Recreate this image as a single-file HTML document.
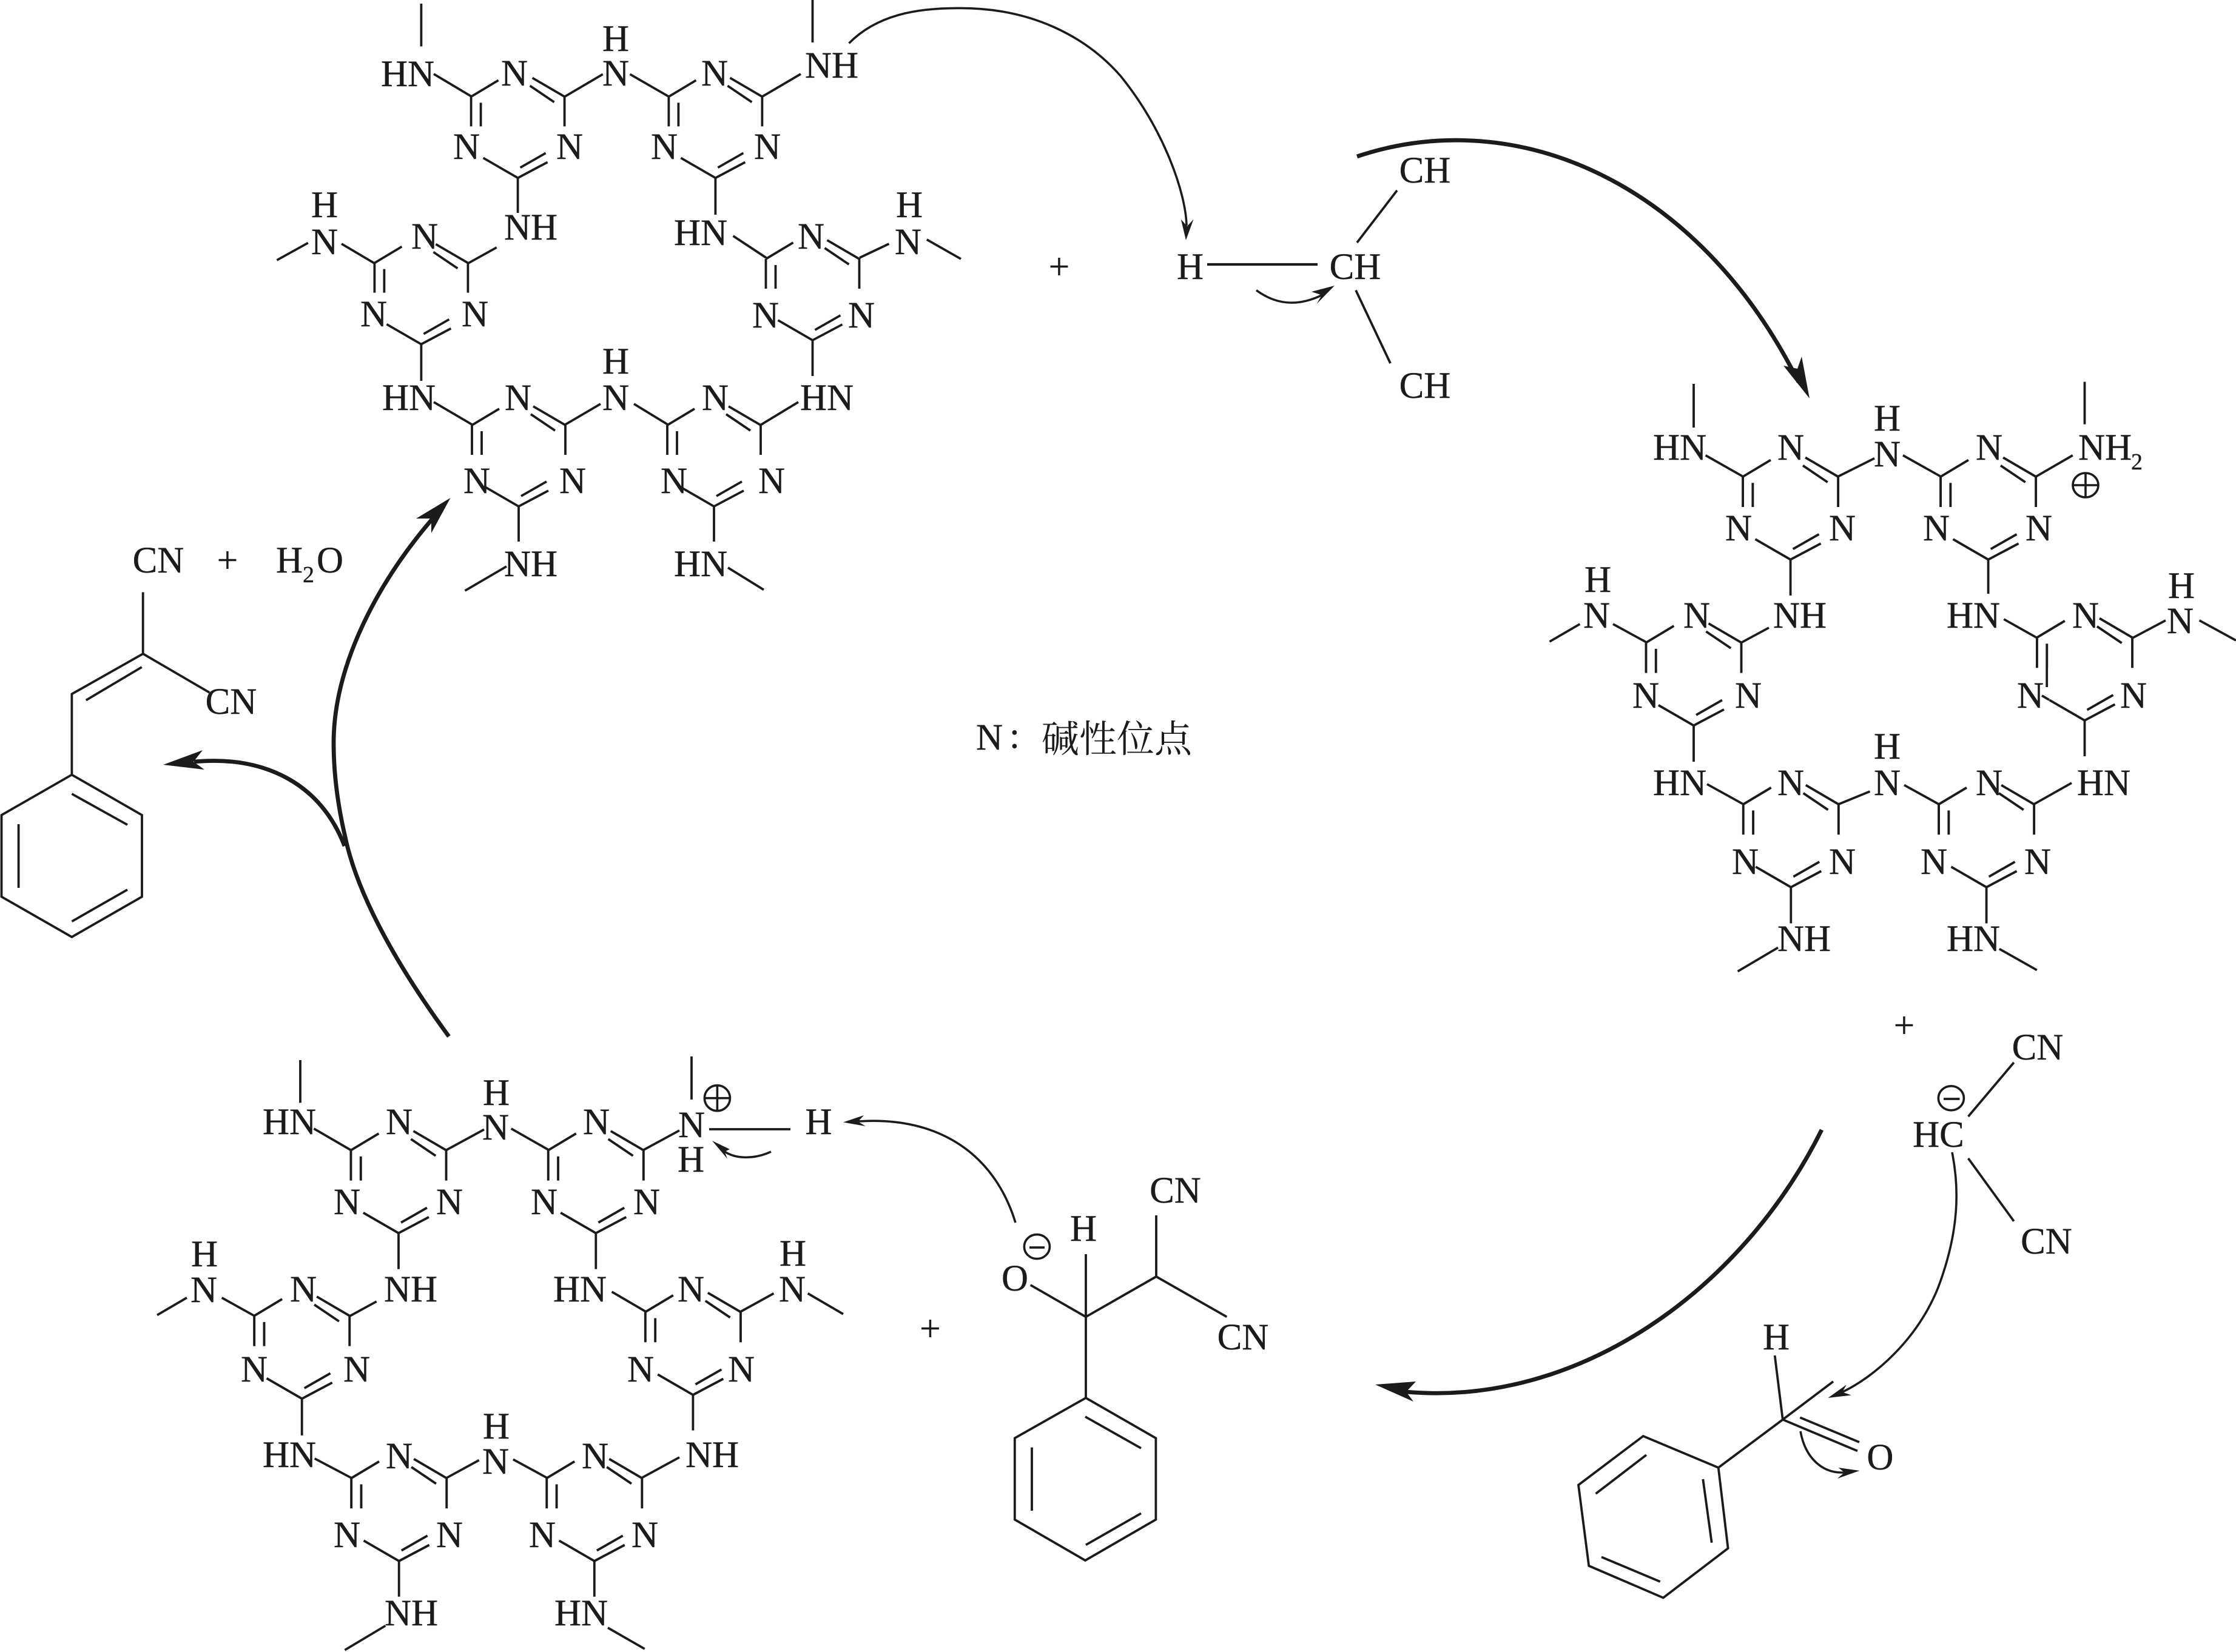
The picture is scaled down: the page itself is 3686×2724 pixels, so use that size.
<!DOCTYPE html>
<html lang="zh">
<head>
<meta charset="utf-8">
<title>Reaction mechanism</title>
<style>
html,body{margin:0;padding:0;background:#fff}
svg{display:block}
.b{fill:none;stroke:#1c1a1b;stroke-width:3.8;stroke-linecap:butt;stroke-linejoin:miter}
.a{fill:none;stroke:#1c1a1b;stroke-width:3.6}
.k{fill:none;stroke:#1c1a1b;stroke-width:6.8}
.h{fill:#1c1a1b;stroke:none}
.t{transform:translateY(-1px)}
.t text{font-family:"Liberation Serif","Noto Serif CJK SC",serif;font-size:61px;fill:#1c1a1b;stroke:#1c1a1b;stroke-width:.4;text-anchor:middle}
.t text.s{text-anchor:start}
.t text.u{font-size:38px;text-anchor:start}
.t text.c{font-size:62px;text-anchor:start;stroke-width:0;font-family:"Liberation Serif","Noto Serif CJK SC",serif}
</style>
</head>
<body>
<svg xmlns="http://www.w3.org/2000/svg" width="3686" height="2724" viewBox="0 0 3686 2724">
<defs>
<path id="r" class="b" d="M-77,-134L-32,-161M24,-165L77,-134L77,-85M20,-152L60,-125M0,0L49,-26M4,-17L46,-41M0,0L-57,-33M-77,-134L-77,-85M-61,-124L-61,-85"/>
</defs>
<rect width="3686" height="2724" fill="#fff"/>

<!-- Macrocycle A (top) -->
<use href="#r" transform="translate(853.6,293.4)"/>
<use href="#r" transform="translate(1179.4,293.4)"/>
<use href="#r" transform="translate(694.4,567.6)"/>
<use href="#r" transform="translate(1339.5,561)"/>
<use href="#r" transform="translate(855,835)"/>
<use href="#r" transform="translate(1177,835)"/>
<path class="b" d="M694.4,6V76.5M715,122L777,159M931.5,159L993.7,122.4M1038.5,122.4L1102,159M1339.5,0V70M1257,159L1320,122M853.6,293.4V351M1179.4,293.4V354M772,434L818.7,408M1263,425L1208.5,389M456.4,429L507.8,400.5M563,402L617,434M694.4,567.6V628M715,663L778,700M1465.5,402L1417,425M1527.8,395L1584,427M1339.5,561V620M1255,700L1316,663M932,700L990,666M1045,666L1100.7,700M855,835V893M835,934L766.5,974M1177,835V893M1200,936L1259,972.5"/>
<g class="t">
<text x="672" y="143">HN</text><text x="848" y="142">N</text><text x="1015" y="142">N</text><text x="1015" y="85">H</text><text x="1178" y="142">N</text><text x="1371" y="129">NH</text>
<text x="769" y="263">N</text><text x="939" y="263">N</text><text x="1095" y="263">N</text><text x="1265" y="263">N</text>
<text x="875" y="396">NH</text><text x="1155" y="405">HN</text>
<text x="535" y="420">N</text><text x="535" y="359">H</text><text x="700" y="411">N</text><text x="1337" y="411">N</text><text x="1497" y="420">N</text><text x="1499" y="359">H</text>
<text x="616" y="539">N</text><text x="783" y="539">N</text><text x="1262" y="541">N</text><text x="1420" y="541">N</text>
<text x="674" y="677">HN</text><text x="854" y="677">N</text><text x="1015" y="677">N</text><text x="1015" y="617">H</text><text x="1179" y="677">N</text><text x="1363" y="677">HN</text>
<text x="786" y="814">N</text><text x="944" y="814">N</text><text x="1111" y="814">N</text><text x="1272" y="814">N</text>
<text x="875" y="951">NH</text><text x="1155" y="951">HN</text>
</g>

<!-- Product: benzylidene malononitrile + water -->
<path class="b" d="M235.7,976.5V1078L118.4,1144.4V1277.5L234,1344V1478.6L118.4,1545L2.5,1478.6V1344L118.4,1277.5M235.7,1078L345.4,1142M233.7,1100L141.8,1154.6M118.4,1309L210,1360M30.6,1359V1464M118.4,1519.4L210,1467"/>
<g class="t">
<text x="261" y="945">CN</text><text x="375" y="945">+</text>
<text class="s" x="455" y="945">H</text><text class="u" x="499" y="961">2</text><text class="s" x="522" y="945">O</text>
<text x="381" y="1178">CN</text>
</g>

<!-- Thick arrows, left -->
<path class="k" d="M740,1709C660,1600 590,1480 569,1380C555,1320 550,1270 550,1225C550,1100 620,960 722,845"/>
<polygon class="h" points="742.5,821 711,879 711,855 686,855"/>
<path class="k" d="M568,1395C530,1295 440,1245 320,1256"/>
<polygon class="h" points="269,1261 334,1237 319,1256 337,1269"/>

<!-- Thin arrow to H -->
<path class="a" d="M1399.5,71.4C1445,25 1510,13 1582,13.4C1700,13 1790,60 1847,125C1920,215 1955,320 1956,372"/>
<polygon class="h" points="1955,396 1946.8,361.6 1957,373 1967.5,361.6"/>

<!-- Malononitrile top right -->
<path class="b" d="M2237,400L2303,314M2235,478.6L2292,599"/>
<path class="b" style="stroke-width:4.2" d="M1990,436H2172"/>
<path class="a" d="M2071,478.6C2100,500 2135,508 2179,486.6"/>
<polygon class="h" points="2200,471 2162,481 2179,486.6 2170.6,501"/>
<g class="t">
<text x="1746" y="461">+</text><text x="1962" y="461">H</text><text x="2234" y="461">CH</text><text x="2349" y="302">CH</text><text x="2349" y="657">CH</text>
</g>

<!-- Thick arrow top right -->
<path class="k" d="M2237,258C2500,170 2800,300 2965,630"/>
<polygon class="h" points="2983,657 2940,603 2963,608 2970,588"/>

<!-- Macrocycle B (right) -->
<use href="#r" transform="translate(2951.6,922.7) scale(1.02)"/>
<use href="#r" transform="translate(3277.6,922.7) scale(1.02)"/>
<use href="#r" transform="translate(2792,1196.3) scale(1.02)"/>
<use href="#r" transform="translate(3436.5,1187.9) scale(1.02)"/>
<use href="#r" transform="translate(2952.3,1462.9) scale(1.02)"/>
<use href="#r" transform="translate(3274.6,1462.9) scale(1.02)"/>
<path class="b" d="M2792,633V705M2811.6,750.8L2873.7,786M3029.5,786L3090,755.7M3137,750.8L3199.7,786M3436.5,629.5V699.6M3356,786L3416.8,750.8M2951.6,922.7V982M3277.6,922.7V979M2870.7,1059.5L2916,1035M2554.5,1058L2604.4,1029M2659,1029L2714.8,1059.5M2792,1196.3V1256M2814,1293L2873.7,1326M3303.3,1021L3359.3,1052.5M3514.4,1052.5L3570,1023M3625.6,1023L3686,1056M3436.5,1187.9V1247M3031,1326L3082.5,1305M3139,1294.5L3196,1326M3353,1326L3415,1291M2952.3,1462.9V1522.5M2931,1562.5L2864.6,1601.7M3274.6,1462.9V1522.5M3295.8,1564.6L3357.8,1599.6M3378,1154L3366,1147M3374.2,1101V1133"/>
<g class="t">
<text x="2769" y="759">HN</text><text x="2952" y="759">N</text><text x="3111" y="770">N</text><text x="3111" y="711">H</text><text x="3279" y="759">N</text>
<text class="s" x="3426" y="759">NH</text><text class="u" x="3513" y="775">2</text>
<text x="2866" y="892">N</text><text x="3037" y="892">N</text><text x="3192" y="892">N</text><text x="3361" y="892">N</text>
<text x="2967" y="1036">NH</text><text x="3253" y="1036">HN</text>
<text x="2632" y="1036">N</text><text x="2634" y="977">H</text><text x="2797" y="1036">N</text><text x="3438" y="1036">N</text><text x="3594" y="1045">N</text><text x="3596" y="987">H</text>
<text x="2713" y="1168">N</text><text x="2882" y="1168">N</text><text x="3347" y="1168">N</text><text x="3517" y="1168">N</text>
<text x="2769" y="1312">HN</text><text x="2952" y="1312">N</text><text x="3111" y="1312">N</text><text x="3111" y="1252">H</text><text x="3279" y="1312">N</text><text x="3468" y="1312">HN</text>
<text x="2877" y="1442">N</text><text x="3037" y="1442">N</text><text x="3188" y="1442">N</text><text x="3359" y="1442">N</text>
<text x="2974" y="1569">NH</text><text x="3253" y="1569">HN</text>
</g>
<ellipse class="a" cx="3438" cy="800" rx="21" ry="20"/>
<path class="a" d="M3417,800H3459M3438,780V820"/>

<!-- Carbanion + benzaldehyde -->
<path class="b" d="M3244.6,1841L3319.8,1752M3244.6,1910L3319.8,2013.6"/>
<ellipse class="a" cx="3216.4" cy="1810.8" rx="21" ry="20"/>
<path class="b" d="M3204,1812H3230.5"/>
<g class="t">
<text x="3139" y="1712">+</text><text x="3359" y="1748">CN</text><text x="3373.5" y="2068">CN</text><text x="3195.5" y="1892">HC</text>
<text x="2928" y="2226">H</text><text x="3099.4" y="2424">O</text>
</g>
<path class="a" d="M3218,1900C3230,1960 3230,2030 3195,2123C3160,2210 3090,2270 3037,2295.4"/>
<polygon class="h" points="3013.5,2305 3043.8,2283.3 3037,2295.4 3051.8,2300.5"/>
<path class="b" d="M2925.7,2235L2938.8,2340.8L3022,2278M2938.8,2340.8L3062,2392.5M2967.4,2337.4L3065,2378M2938.8,2340.8L2832.7,2420L2848.6,2553L2741.8,2634.6L2619.2,2581.9L2602,2448.6L2708.8,2368L2832.7,2420M2807.3,2439L2821.7,2543.7M2714,2399L2630.6,2463M2640,2567.4L2736.7,2608"/>
<path class="a" d="M2968,2360C2976,2405 3005,2430 3040.4,2428"/>
<polygon class="h" points="3065.5,2425 3030.7,2420 3040.4,2428 3029,2438"/>

<!-- Thick arrow bottom right -->
<path class="k" d="M3003,1863C2870,2130 2600,2320 2318,2295"/>
<polygon class="h" points="2267,2283 2334,2278 2318,2295 2330,2311"/>

<!-- Macrocycle C (bottom left) -->
<use href="#r" transform="translate(657,2033.3) scale(1.02)"/>
<use href="#r" transform="translate(982.3,2033.3) scale(1.02)"/>
<use href="#r" transform="translate(497.7,2306.3) scale(1.02)"/>
<use href="#r" transform="translate(1142.4,2300) scale(1.02)"/>
<use href="#r" transform="translate(657.7,2574) scale(1.02)"/>
<use href="#r" transform="translate(979.8,2574) scale(1.02)"/>
<path class="b" d="M495,1748V1818.4M517.4,1861L578,1896.2M736,1896.2L798,1862.4M842.7,1861L904.5,1896.2M1140,1742V1813M1060.8,1896.2L1120,1864M657,2033.3V2092.6M982.3,2033.3V2092.6M576,2170.4L620.7,2146M259,2168.5L308,2139.8M365.6,2139.8L420.5,2170.4M497.7,2306.3V2366.9M518.7,2405L579.3,2437M1008.5,2130L1064.6,2162.8M1220.9,2162.8L1275.5,2132.7M1331.6,2132.7L1390,2166.8M1142.4,2300V2358.6M1120,2403L1057.6,2437M736,2437L789.7,2407.7M845.9,2406.4L902,2437M657.7,2574V2632.8M635.4,2680.7L568.4,2720.8M979.8,2574V2632.8M1002,2684L1062.7,2718.9"/>
<path class="b" d="M1169,1862H1303"/>
<g class="t">
<text x="477" y="1871">HN</text><text x="658" y="1871">N</text><text x="817" y="1880">N</text><text x="818" y="1823">H</text><text x="983" y="1871">N</text><text x="1140" y="1876">N</text><text x="1139" y="1933">H</text><text x="1349.5" y="1871">H</text>
<text x="572" y="2003">N</text><text x="741" y="2003">N</text><text x="897" y="2003">N</text><text x="1066" y="2003">N</text>
<text x="677" y="2147">NH</text><text x="956" y="2147">HN</text>
<text x="336" y="2148">N</text><text x="337" y="2089">H</text><text x="500" y="2147">N</text><text x="1139" y="2147">N</text><text x="1306" y="2147">N</text><text x="1307" y="2088">H</text>
<text x="419" y="2279">N</text><text x="588" y="2279">N</text><text x="1056" y="2279">N</text><text x="1222" y="2279">N</text>
<text x="477" y="2420">HN</text><text x="658" y="2422">N</text><text x="817" y="2431">N</text><text x="818" y="2373">H</text><text x="981" y="2422">N</text><text x="1174" y="2420">NH</text>
<text x="572" y="2552">N</text><text x="741" y="2552">N</text><text x="894" y="2552">N</text><text x="1063" y="2552">N</text>
<text x="678" y="2681">NH</text><text x="958" y="2681">HN</text>
</g>
<ellipse class="a" cx="1182.4" cy="1810.7" rx="21" ry="21"/>
<path class="a" d="M1161.4,1810.7H1203.4M1182.4,1790V1832"/>
<path class="a" d="M1271,1899C1245,1911 1215,1912 1194.5,1899"/>
<polygon class="h" points="1174,1881 1203,1895 1194.5,1899 1199,1910.7"/>
<path class="a" d="M1674,2016C1640,1905 1550,1840 1415,1849"/>
<polygon class="h" points="1390,1850.5 1424,1839 1414.5,1849.5 1427,1857"/>

<!-- Intermediate alkoxide -->
<path class="b" d="M1790,2068V2305L1905.4,2371.4V2505.6L1789,2573L1672.8,2505.6V2371.4L1790,2305M1790,2171.4L1698.7,2118.9M1790,2171.4L1906,2105L2022.3,2171.4M1906,2004V2105M1789,2336L1881,2388M1701,2386.7V2491M1790,2547.4L1881,2495.4"/>
<ellipse class="a" cx="1709.4" cy="2055.6" rx="21" ry="20"/>
<path class="b" d="M1697,2057H1722"/>
<g class="t">
<text x="1533.5" y="2212">+</text><text x="1673" y="2129">O</text><text x="1786" y="2047">H</text><text x="1937.5" y="1984">CN</text><text x="2049" y="2226">CN</text>
</g>

<!-- Caption -->
<g class="t">
<text class="s" x="1609" y="1237">N</text><text class="s" x="1664" y="1234">:</text>
<text class="c" x="1717" y="1241">碱性位点</text>
</g>
</svg>
</body>
</html>
